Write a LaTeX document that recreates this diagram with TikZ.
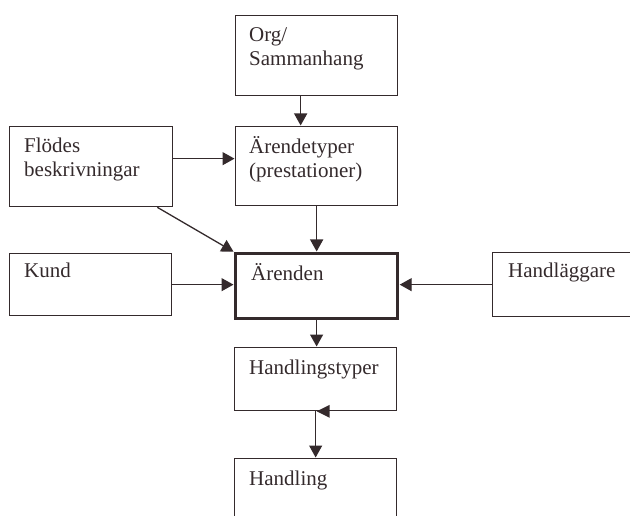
\documentclass[tikz,border=0pt]{standalone}
\usepackage{fontspec}
\setmainfont{Liberation Serif}
\usetikzlibrary{arrows.meta}
\definecolor{ink}{RGB}{52,42,44}
\begin{document}
\begin{tikzpicture}[x=1pt,y=-1pt,
  box/.style={draw=ink, line width=1.3pt, rectangle, inner sep=0pt, anchor=north west},
  mainbox/.style={box, line width=3.2pt},
  txt/.style={text=ink, font=\fontsize{21}{24}\selectfont, text width=150pt,
    align=left, inner sep=0pt, anchor=base west},
  arr/.style={draw=ink, line width=1.3pt, -{Triangle[length=12pt,width=13pt]}, shorten >=0.5pt}]
\useasboundingbox (0,0) rectangle (630,516);
\clip (0,0) rectangle (630,516);

% boxes
\node[box, minimum width=162pt, minimum height=80pt] (org)   at (235,15)  {};
\node[box, minimum width=162pt, minimum height=79pt] (typ)   at (235,126) {};
\node[box, minimum width=163pt, minimum height=80pt] (flod)  at (9,126)   {};
\node[box, minimum width=162pt, minimum height=62pt] (kund)  at (9,253)   {};
\node[mainbox, minimum width=162pt, minimum height=65pt] (arende) at (234,252) {};
\node[box, minimum width=170pt, minimum height=64pt] (handl) at (492,252) {};
\node[box, minimum width=162pt, minimum height=63pt] (htyp)  at (234,347) {};
\node[box, minimum width=162pt, minimum height=90pt] (hand)  at (234,458) {};

% texts
\node[txt] (org-t)    at ([shift={(14,27)}]org.north west)    {Org/\\Sammanhang};
\node[txt] (typ-t)    at ([shift={(14,28)}]typ.north west)    {Ärendetyper\\(prestationer)};
\node[txt] (flod-t)   at ([shift={(15,27)}]flod.north west)   {Flödes\\beskrivningar};
\node[txt] (kund-t)   at ([shift={(15,25)}]kund.north west)   {Kund};
\node[txt] (arende-t) at ([shift={(17,28)}]arende.north west) {Ärenden};
\node[txt] (handl-t)  at ([shift={(16,26)}]handl.north west)  {Handläggare};
\node[txt] (htyp-t)   at ([shift={(15,27)}]htyp.north west)   {Handlingstyper};
\node[txt] (hand-t)   at ([shift={(15,27)}]hand.north west)   {Handling};

% connectors
\draw[arr] ([xshift=-16pt]org.south) -- ([xshift=-16pt]typ.north);
\draw[arr] ([yshift=8pt]flod.east) -- ([yshift=8pt]flod.east -| typ.west);
\draw[arr] (typ.south) -- (typ.south |- arende.north);
\draw[arr] ([xshift=-16pt]flod.south east) -- (arende.north west);
\draw[arr] (kund.east) -- (kund.east -| arende.west);
\draw[arr] (handl.west) -- (handl.west -| arende.east);
\draw[arr] (arende.south) -- (arende.south |- htyp.north);
\draw[arr] (htyp.south) -- (htyp.south |- hand.north);
% stray arrowhead on the lower edge of Handlingstyper
\fill[ink] ([xshift=1pt]htyp.south) -- ([shift={(14,-6.5)}]htyp.south)
  -- ([shift={(14,6.5)}]htyp.south) -- cycle;
\end{tikzpicture}
\end{document}
